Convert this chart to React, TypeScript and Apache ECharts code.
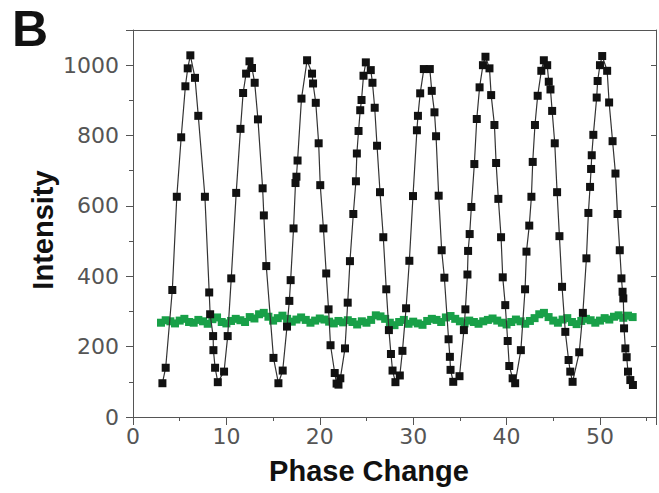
import React, { useEffect, useRef } from "react";
import * as echarts from "echarts";

const panelLabel = "B";
const xTitle = "Phase Change";
const yTitle = "Intensity";
const xTicks = [0, 10, 20, 30, 40, 50];
const yTicks = [0, 200, 400, 600, 800, 1000];

// Signal (black) : [phase, intensity]
const signalPoints: [number, number][] = [
  [3.15, 96], [3.5, 140], [4.21, 361], [4.69, 626], [5.16, 795], [5.61, 940], [5.86, 991], [6.14, 1028],
  [6.64, 964], [6.99, 856], [7.7, 626], [8.16, 354], [8.26, 292], [8.58, 230], [8.61, 190], [8.79, 140],
  [9.08, 99], [9.75, 129], [10.14, 230], [10.52, 394], [11.05, 637], [11.51, 819], [11.79, 921], [12.11, 976],
  [12.47, 1011], [12.74, 992], [13.03, 950], [13.38, 846], [13.88, 650], [14.01, 573], [14.27, 429], [15.04, 168],
  [15.57, 96], [16.03, 132], [16.49, 257], [16.74, 330], [16.88, 389], [17.19, 536], [17.4, 665], [17.5, 683],
  [17.62, 729], [18.04, 905], [18.64, 1014], [19.17, 976], [19.28, 948], [19.57, 893], [19.88, 778], [20.05, 659],
  [20.39, 536], [20.69, 408], [20.94, 306], [21.15, 204], [21.6, 125], [21.8, 95], [22.0, 92], [22.2, 110],
  [22.7, 195], [22.99, 325], [23.23, 443], [23.59, 577], [23.87, 670], [23.97, 749], [24.15, 813], [24.33, 872],
  [24.47, 901], [24.68, 970], [24.93, 1008], [25.46, 986], [25.64, 950], [25.88, 879], [26.13, 771], [26.45, 639],
  [26.8, 511], [27.12, 363], [27.4, 247], [27.62, 179], [27.79, 132], [28.1, 99], [28.57, 118], [28.85, 188],
  [29.24, 309], [29.59, 444], [29.98, 628], [30.4, 815], [30.51, 856], [30.75, 920], [31.14, 989], [31.78, 989],
  [31.99, 927], [32.28, 866], [32.45, 798], [32.73, 629], [33.05, 474], [33.34, 396], [33.79, 221], [33.93, 171],
  [34.0, 134], [34.29, 100], [34.96, 116], [35.43, 247], [35.59, 306], [35.81, 405], [35.88, 472], [36.05, 520],
  [36.23, 597], [36.55, 719], [36.81, 847], [37.11, 937], [37.47, 1000], [37.74, 1024], [38.17, 991], [38.35, 915],
  [38.7, 830], [38.88, 722], [39.12, 620], [39.41, 511], [39.59, 397], [39.86, 318], [40.12, 216], [40.29, 145],
  [40.65, 110], [40.92, 96], [41.53, 190], [41.98, 363], [42.13, 470], [42.43, 544], [42.66, 626], [42.8, 725],
  [43.04, 830], [43.33, 913], [43.72, 984], [43.99, 1014], [44.35, 1000], [44.52, 953], [44.7, 931], [44.88, 870],
  [45.16, 778], [45.41, 639], [45.66, 514], [45.94, 370], [46.29, 242], [46.64, 162], [46.82, 129], [47.07, 100],
  [47.78, 184], [48.17, 296], [48.55, 451], [48.76, 580], [48.94, 654], [49.05, 705], [49.12, 744], [49.29, 802],
  [49.65, 908], [49.75, 955], [50.0, 1000], [50.24, 1026], [50.77, 984], [50.98, 894], [51.35, 784], [51.66, 692],
  [51.88, 577], [52.12, 474], [52.3, 394], [52.42, 356], [52.5, 337], [52.58, 252], [52.72, 195], [52.86, 170],
  [53.0, 129], [53.25, 105], [53.53, 91],
];

// Reference (green) : [phase, intensity]
const referencePoints: [number, number][] = [
  [3.0, 268], [3.5, 275], [4.0, 272], [4.5, 266], [5.0, 274], [5.5, 279], [6.0, 270], [6.5, 268],
  [7.0, 276], [7.5, 272], [8.0, 265], [8.5, 278], [9.0, 283], [9.5, 270], [10.0, 266], [10.5, 273],
  [11.0, 279], [11.5, 275], [12.0, 270], [12.5, 284], [13.0, 280], [13.5, 292], [14.0, 296], [14.5, 285],
  [15.0, 274], [15.5, 281], [16.0, 288], [16.5, 279], [17.0, 271], [17.5, 277], [18.0, 283], [18.5, 276],
  [19.0, 268], [19.5, 274], [20.0, 280], [20.5, 277], [21.0, 271], [21.5, 266], [22.0, 273], [22.5, 269],
  [23.0, 275], [23.5, 270], [24.0, 263], [24.5, 272], [25.0, 268], [25.5, 276], [26.0, 289], [26.5, 286],
  [27.0, 279], [27.5, 268], [28.0, 261], [28.5, 270], [29.0, 276], [29.5, 265], [30.0, 271], [30.5, 266],
  [31.0, 262], [31.5, 273], [32.0, 279], [32.5, 276], [33.0, 270], [33.5, 283], [34.0, 287], [34.5, 279],
  [35.0, 272], [35.5, 266], [36.0, 274], [36.5, 270], [37.0, 265], [37.5, 272], [38.0, 276], [38.5, 280],
  [39.0, 274], [39.5, 268], [40.0, 263], [40.5, 270], [41.0, 277], [41.5, 272], [42.0, 265], [42.5, 273],
  [43.0, 281], [43.5, 292], [44.0, 296], [44.5, 284], [45.0, 274], [45.5, 268], [46.0, 277], [46.5, 281],
  [47.0, 270], [47.5, 264], [48.0, 273], [48.5, 279], [49.0, 275], [49.5, 268], [50.0, 274], [50.5, 281],
  [51.0, 277], [51.5, 285], [52.0, 289], [52.5, 282], [53.0, 288], [53.5, 284],
];

const axisColor = "#555";
const labelColor = "#555";

export default function App() {
  const ref = useRef<HTMLDivElement>(null);
  useEffect(() => {
    if (!ref.current) return;
    const chart = echarts.init(ref.current, null, { renderer: "svg" });
    const gridLeft = 133;
    const gridTop = 30;
    const gridWidth = 528.6;
    const gridHeight = 387;
    chart.setOption({
      animation: false,
      backgroundColor: "#fff",
      grid: { left: gridLeft, top: gridTop, width: gridWidth, height: gridHeight, show: false },
      xAxis: [
        {
          type: "value",
          min: 0,
          max: 56,
          interval: 10,
          axisLine: { show: true, onZero: false, lineStyle: { color: axisColor, width: 1 } },
          axisTick: { show: true, inside: false, length: 8, lineStyle: { color: axisColor } },
          minorTick: { show: true, splitNumber: 2, length: 4, lineStyle: { color: axisColor } },
          splitLine: { show: false },
          axisLabel: {
            show: true,
            margin: 8,
            color: labelColor,
            fontFamily: "DejaVu Sans",
            fontSize: 22,
            formatter: (v: number) => (xTicks.includes(v) ? String(v) : ""),
          },
        },
        {
          type: "value",
          position: "top",
          min: 0,
          max: 56,
          interval: 10,
          axisLine: { show: true, onZero: false, lineStyle: { color: axisColor, width: 1 } },
          axisTick: { show: false },
          axisLabel: { show: false },
          splitLine: { show: false },
        },
      ],
      yAxis: [
        {
          type: "value",
          min: 0,
          max: 1100,
          interval: 200,
          axisLine: { show: true, onZero: false, lineStyle: { color: axisColor, width: 1 } },
          axisTick: { show: true, inside: false, length: 7, lineStyle: { color: axisColor } },
          minorTick: { show: true, splitNumber: 2, length: 4, lineStyle: { color: axisColor } },
          splitLine: { show: false },
          axisLabel: {
            show: true,
            margin: 14,
            color: labelColor,
            fontFamily: "DejaVu Sans",
            fontSize: 22,
            formatter: (v: number) => (yTicks.includes(v) ? String(v) : ""),
          },
        },
        {
          type: "value",
          position: "right",
          min: 0,
          max: 1100,
          interval: 200,
          axisLine: { show: true, onZero: false, lineStyle: { color: axisColor, width: 1 } },
          axisTick: { show: true, inside: true, length: 5, lineStyle: { color: axisColor } },
          axisLabel: { show: false },
          splitLine: { show: false },
        },
      ],
      graphic: [
        {
          type: "text",
          x: 30,
          y: 29,
          style: {
            text: panelLabel,
            fontFamily: "Liberation Sans",
            fontWeight: "bold",
            fontSize: 50,
            lineHeight: 50,
            fill: "#111",
            align: "center",
            verticalAlign: "middle",
          },
        },
        {
          type: "text",
          x: 369,
          y: 471,
          style: {
            text: xTitle,
            fontFamily: "Liberation Sans",
            fontWeight: "bold",
            fontSize: 29,
            fill: "#111",
            align: "center",
            verticalAlign: "middle",
          },
        },
        {
          type: "text",
          x: 43,
          y: 230,
          rotation: Math.PI / 2,
          style: {
            text: yTitle,
            fontFamily: "Liberation Sans",
            fontWeight: "bold",
            fontSize: 29,
            fill: "#111",
            align: "center",
            verticalAlign: "middle",
          },
        },
      ],
      series: [
        {
          name: "Reference",
          type: "line",
          data: referencePoints,
          symbol: "rect",
          symbolSize: 8,
          itemStyle: { color: "#18a048" },
          lineStyle: { color: "#18a048", width: 2.5 },
          z: 2,
        },
        {
          name: "Signal",
          type: "line",
          data: signalPoints,
          symbol: "rect",
          symbolSize: 8,
          itemStyle: { color: "#111" },
          lineStyle: { color: "#333", width: 1.2 },
          z: 3,
        },
      ],
    });
    return () => chart.dispose();
  }, []);
  return <div ref={ref} style={{ width: 659, height: 493, position: "absolute", left: 0, top: 0 }} />;
}
